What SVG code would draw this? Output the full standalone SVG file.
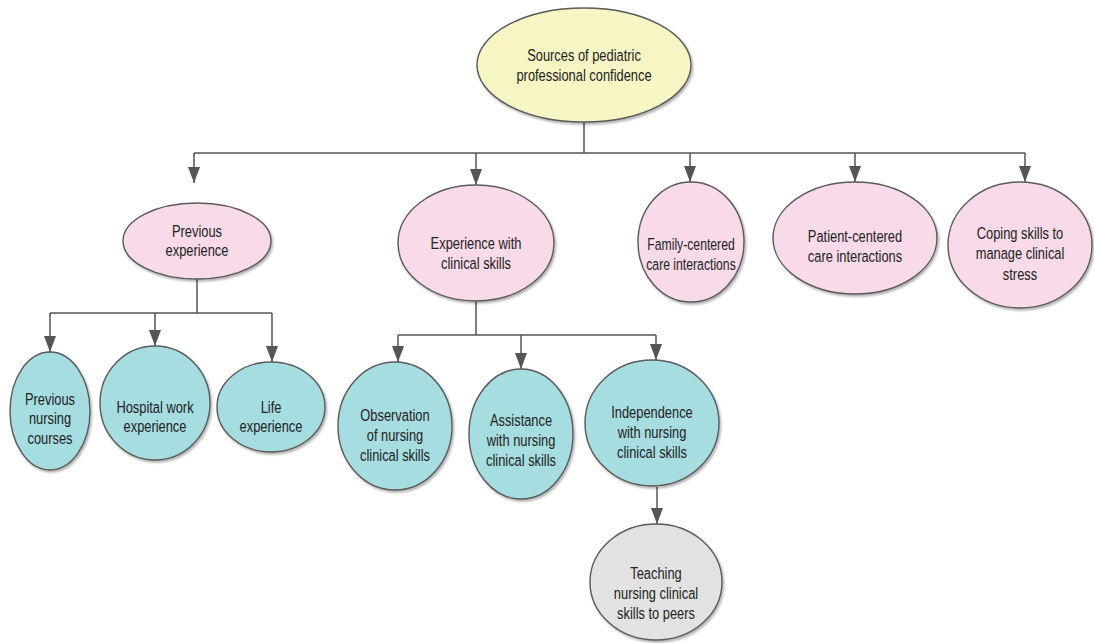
<svg xmlns="http://www.w3.org/2000/svg" width="1094" height="643" viewBox="0 0 1094 643">
  <defs>
    <marker id="arrow" markerUnits="userSpaceOnUse" markerWidth="16" markerHeight="12" refX="16" refY="6" orient="auto" viewBox="0 0 16 12">
      <path d="M0,0 L16,6 L0,12 Z" fill="#555"/>
    </marker>
    <filter id="shadow" x="-10%" y="-10%" width="125%" height="125%">
      <feDropShadow dx="1.5" dy="2" stdDeviation="1.2" flood-color="#000" flood-opacity="0.3"/>
    </filter>
  </defs>
  <style>
    .node ellipse { stroke: #5a5a5a; stroke-width: 1.4; filter: url(#shadow); }
    .root ellipse { fill: #f8f5c4; }
    .cat ellipse { fill: #f8dae9; }
    .sub ellipse { fill: #a6dde1; }
    .leaf ellipse { fill: #e2e2e2; }
    .node text { font-family: "Liberation Sans", Arial, sans-serif; font-size: 16.5px; fill: #222; text-anchor: middle; }
    .conn path { fill: none; stroke: #555; stroke-width: 1.5; }
  </style>
  <rect width="1094" height="643" fill="#ffffff"/>

  <g id="connectors" class="conn">
    <!-- root to first level -->
    <path d="M584,122 V153"/>
    <path d="M194,153 H1025"/>
    <path d="M194,153 V183" marker-end="url(#arrow)"/>
    <path d="M476,153 V185" marker-end="url(#arrow)"/>
    <path d="M690,153 V182" marker-end="url(#arrow)"/>
    <path d="M855,153 V182" marker-end="url(#arrow)"/>
    <path d="M1025,153 V182" marker-end="url(#arrow)"/>
    <!-- previous experience branch -->
    <path d="M197,279 V313"/>
    <path d="M50,313 H272"/>
    <path d="M50,313 V352" marker-end="url(#arrow)"/>
    <path d="M155,313 V346" marker-end="url(#arrow)"/>
    <path d="M272,313 V362" marker-end="url(#arrow)"/>
    <!-- clinical skills branch -->
    <path d="M476,301 V335"/>
    <path d="M398,335 H656"/>
    <path d="M398,335 V362" marker-end="url(#arrow)"/>
    <path d="M521,335 V369" marker-end="url(#arrow)"/>
    <path d="M656,335 V360" marker-end="url(#arrow)"/>
    <!-- independence to teaching -->
    <path d="M657,487 V524" marker-end="url(#arrow)"/>
  </g>

  <g id="root" class="node root">
    <ellipse cx="584" cy="65" rx="107" ry="57"/>
    <text transform="translate(584 0) scale(0.78 1)"><tspan x="0" y="61">Sources of pediatric</tspan><tspan x="0" y="81">professional confidence</tspan></text>
  </g>

  <g id="previous-experience" class="node cat">
    <ellipse cx="197" cy="241" rx="74" ry="38"/>
    <text transform="translate(197 0) scale(0.78 1)"><tspan x="0" y="237">Previous</tspan><tspan x="0" y="256">experience</tspan></text>
  </g>

  <g id="experience-clinical-skills" class="node cat">
    <ellipse cx="476" cy="243" rx="78" ry="58"/>
    <text transform="translate(476 0) scale(0.78 1)"><tspan x="0" y="249">Experience with</tspan><tspan x="0" y="269">clinical skills</tspan></text>
  </g>

  <g id="family-centered" class="node cat">
    <ellipse cx="691" cy="242" rx="53" ry="60"/>
    <text transform="translate(691 0) scale(0.74 1)"><tspan x="0" y="250">Family-centered</tspan><tspan x="0" y="270">care interactions</tspan></text>
  </g>

  <g id="patient-centered" class="node cat">
    <ellipse cx="855" cy="238" rx="82" ry="56"/>
    <text transform="translate(855 0) scale(0.78 1)"><tspan x="0" y="242">Patient-centered</tspan><tspan x="0" y="262">care interactions</tspan></text>
  </g>

  <g id="coping-skills" class="node cat">
    <ellipse cx="1020" cy="245" rx="72" ry="63"/>
    <text transform="translate(1020 0) scale(0.78 1)"><tspan x="0" y="239">Coping skills to</tspan><tspan x="0" y="259">manage clinical</tspan><tspan x="0" y="280">stress</tspan></text>
  </g>

  <g id="previous-nursing-courses" class="node sub">
    <ellipse cx="50" cy="411" rx="40" ry="59"/>
    <text transform="translate(50 0) scale(0.78 1)"><tspan x="0" y="405">Previous</tspan><tspan x="0" y="424">nursing</tspan><tspan x="0" y="444">courses</tspan></text>
  </g>

  <g id="hospital-work" class="node sub">
    <ellipse cx="155" cy="403" rx="55" ry="57"/>
    <text transform="translate(155 0) scale(0.78 1)"><tspan x="0" y="413">Hospital work</tspan><tspan x="0" y="432">experience</tspan></text>
  </g>

  <g id="life-experience" class="node sub">
    <ellipse cx="271" cy="407" rx="54" ry="45"/>
    <text transform="translate(271 0) scale(0.78 1)"><tspan x="0" y="413">Life</tspan><tspan x="0" y="432">experience</tspan></text>
  </g>

  <g id="observation" class="node sub">
    <ellipse cx="395" cy="426" rx="57" ry="64"/>
    <text transform="translate(395 0) scale(0.78 1)"><tspan x="0" y="421">Observation</tspan><tspan x="0" y="441">of nursing</tspan><tspan x="0" y="461">clinical skills</tspan></text>
  </g>

  <g id="assistance" class="node sub">
    <ellipse cx="521" cy="434" rx="52" ry="65"/>
    <text transform="translate(521 0) scale(0.78 1)"><tspan x="0" y="426">Assistance</tspan><tspan x="0" y="446">with nursing</tspan><tspan x="0" y="466">clinical skills</tspan></text>
  </g>

  <g id="independence" class="node sub">
    <ellipse cx="652" cy="423" rx="67" ry="63"/>
    <text transform="translate(652 0) scale(0.78 1)"><tspan x="0" y="418">Independence</tspan><tspan x="0" y="438">with nursing</tspan><tspan x="0" y="458">clinical skills</tspan></text>
  </g>

  <g id="teaching-peers" class="node leaf">
    <ellipse cx="656" cy="582" rx="66" ry="58"/>
    <text transform="translate(656 0) scale(0.78 1)"><tspan x="0" y="579">Teaching</tspan><tspan x="0" y="599">nursing clinical</tspan><tspan x="0" y="619">skills to peers</tspan></text>
  </g>
</svg>
